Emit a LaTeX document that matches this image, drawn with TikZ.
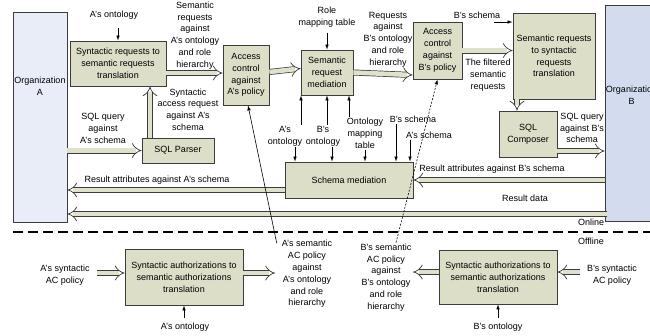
\documentclass[tikz,border=0pt]{standalone}
\usepackage{fontspec}
\setmainfont{Liberation Sans}
\usetikzlibrary{positioning,arrows.meta,calc}
\definecolor{boxFill}{RGB}{220,222,200}
\definecolor{bandFill}{RGB}{222,226,202}
\definecolor{orgAFill}{RGB}{233,237,247}
\definecolor{orgBFill}{RGB}{211,220,238}
\definecolor{edgeGray}{RGB}{60,60,60}
\tikzset{boxStyle/.style={
    draw=edgeGray,
    fill=boxFill,
    line width=0.8pt,
    align=center,
    inner sep=1pt},
  orgStyle/.style={draw=edgeGray, line width=0.8pt},
  textStyle/.style={align=center, inner sep=1pt},
  bandStyle/.style={
    draw=edgeGray,
    line width=0.7pt,
    double=bandFill,
    double distance=4.6pt,
    -{Implies}},
  arrowStyle/.style={
    -{Latex[length=5pt,width=3.5pt]},
    line width=0.6pt},
  dotStyle/.style={arrowStyle, dash pattern=on 2pt off 1.5pt}
}

\begin{document}
\begin{tikzpicture}[x=1pt,y=-1pt,font=\fontsize{9}{11.8}\selectfont]
      \useasboundingbox (0,0) rectangle (650,335);
      \clip (0,0) rectangle (650,335);

      % organizations
      \node[orgStyle, fill=orgAFill, minimum width=54pt, minimum height=210pt] (orgA) at (40,117) {};
      \node[textStyle] (orgAname) at (40,86) {Organization\\A};
      \node[orgStyle, fill=orgBFill, minimum width=60pt, minimum height=216pt] (orgB) at (635,113) {};
      \node[textStyle] (orgBname) at (631.5,95) {Organization\\B};

      % online boxes
      \node[boxStyle, minimum width=96pt, minimum height=45pt] (t1) at (118,63.5)
      {Syntactic requests to\\semantic requests\\translation};
      \node[boxStyle, minimum width=72pt, minimum height=25pt] (parser) at (178,150.5) {SQL Parser};
      \node[boxStyle, minimum width=46pt, minimum height=60pt] (aca) at (246,75)
      {Access\\control\\against\\A's policy};
      \node[boxStyle, minimum width=52pt, minimum height=45pt] (srm) at (327,72.5)
      {Semantic\\request\\mediation};
      \node[boxStyle, minimum width=49pt, minimum height=57pt] (acb) at (437.5,50.5)
      {Access\\control\\against\\B's policy};
      \node[boxStyle, minimum width=82pt, minimum height=86pt] (t2) at (554,56)
      {Semantic requests\\to syntactic\\requests\\translation};
      \node[boxStyle, minimum width=58pt, minimum height=46pt] (comp) at (528,134) {SQL\\Composer};
      \node[boxStyle, minimum width=128pt, minimum height=36pt] (sm) at (349,180) {Schema mediation};

      % offline boxes
      \node[boxStyle, minimum width=118pt, minimum height=56pt] (oa) at (184,277)
      {Syntactic authorizations to\\semantic authorizations\\translation};
      \node[boxStyle, minimum width=118pt, minimum height=54pt] (ob) at (498,277)
      {Syntactic authorizations to\\semantic authorizations\\translation};

      % request flow
      \draw[bandStyle] (orgA.east |- parser.west) -- (parser.west);
      \draw[bandStyle] ([xshift=-28pt]parser.north) -- ([xshift=-28pt]parser.north |- t1.south);
      \draw[bandStyle] ([yshift=-9.5pt]t1.east) -- ([yshift=-9.5pt]t1.east -| aca.west);
      \draw[bandStyle] ([yshift=3pt]aca.east) -- ([yshift=4pt]srm.west);
      \draw[bandStyle] (srm.east) -- ([yshift=-24.5pt]acb.west);
      \draw[bandStyle] (acb.east) -- (acb.east -| t2.west);
      \draw[bandStyle] ([xshift=-37pt]t2.south) -- ([xshift=-37pt]t2.south |- comp.north);
      \draw[bandStyle] ([yshift=-17pt]comp.east) -- ([yshift=-17pt]comp.east -| orgB.west);

      % result flow
      \draw[bandStyle] (sm.east -| orgB.west) -- (sm.east);
      \draw[bandStyle] ([yshift=-10pt]sm.west) -- ([yshift=-10pt]sm.west -| orgA.east);
      \coordinate (rdEnd) at (607,214);
      \draw[bandStyle] (rdEnd) -- (rdEnd -| orgA.east);

      % offline flow
      \coordinate (aSynIn) at (97,273);
      \coordinate (aSemOut) at (275,273);
      \draw[bandStyle] (aSynIn) -- (aSynIn -| oa.west);
      \draw[bandStyle] (aSynIn -| oa.east) -- (aSemOut);
      \coordinate (bSynIn) at (580,272);
      \coordinate (bSemOut) at (413,272);
      \draw[bandStyle] (bSynIn) -- (bSynIn -| ob.east);
      \draw[bandStyle] (bSynIn -| ob.west) -- (bSemOut);

      % labels of the online part
      \node[textStyle] (aOnt1) at (114,15) {A's ontology};
      \draw[arrowStyle] ([yshift=-8pt]aOnt1.south -| t1.north) -- (t1.north);
      \node[textStyle] (semReqA) at (195,35.5)
      {Semantic\\requests\\against\\A's ontology\\and role\\hierarchy};
      \node[textStyle] (synReqA) at (188,109.5) {Syntactic\\access request\\against A's\\schema};
      \node[textStyle] (sqlA) at (103,128.5) {SQL query\\against\\A's schema};
      \node[textStyle] (roleMap) at (327,17) {Role\\mapping table};
      \draw[arrowStyle] ([yshift=-5pt]roleMap.south) -- (srm.north);
      \node[textStyle] (reqB) at (388,39.5)
      {Requests\\against\\B's ontology\\and role\\hierarchy};
      \node[textStyle] (filtered) at (488,75) {The filtered\\semantic\\requests};
      \node[textStyle] (bSch1) at (477,15) {B's schema};
      \draw[arrowStyle] ([xshift=-19pt,yshift=34pt]t2.west) -- ([yshift=34pt]t2.west);
      \node[textStyle] (sqlB) at (582,128) {SQL query\\against B's\\schema};

      % inputs of the mediations
      \node[textStyle] (aOnt2) at (285,136) {A's\\ontology};
      \node[textStyle] (bOnt2) at (323,136) {B's\\ontology};
      \node[textStyle] (ontMap) at (365,133.5) {Ontology\\mapping\\table};
      \node[textStyle] (bSch2) at (413,119) {B's schema};
      \node[textStyle] (aSch2) at (429,135) {A's schema};
      \draw[arrowStyle] ([xshift=16pt]aOnt2.north) -- ([xshift=16pt]aOnt2.north |- srm.south);
      \draw[arrowStyle] ([xshift=10pt]aOnt2.south) -- ([xshift=10pt]aOnt2.south |- sm.north);
      \draw[arrowStyle] ([xshift=4pt]bOnt2.north) -- ([xshift=4pt]bOnt2.north |- srm.south);
      \draw[arrowStyle] ([xshift=9pt]bOnt2.south) -- ([xshift=9pt]bOnt2.south |- sm.north);
      \draw[arrowStyle] ([xshift=-16pt]ontMap.north) -- ([xshift=-16pt]ontMap.north |- srm.south);
      \draw[arrowStyle] (ontMap.south) -- (ontMap.south |- sm.north);
      \draw[arrowStyle] ([xshift=-17pt]bSch2.south) -- ([xshift=-17pt]bSch2.south |- sm.north);
      \draw[arrowStyle] ([xshift=-19pt]aSch2.south) -- ([xshift=-19pt]aSch2.south |- sm.north);

      % results
      \node[textStyle] (resA) at (157,180) {Result attributes against A's schema};
      \node[textStyle] (resB) at (492,169) {Result attributes against B's schema};
      \node[textStyle] (resData) at (525,198) {Result data};

      % online / offline border
      \coordinate (sepL) at (13,232);
      \coordinate (sepR) at (650,232);
      \draw[line width=1.1pt, dash pattern=on 10pt off 5pt] (sepL) -- (sepR);
      \node[textStyle] (online) at (591,222) {Online};
      \node[textStyle] (offline) at (591,241) {Offline};

      % labels of the offline part
      \node[textStyle] (aSyn) at (65,275) {A's syntactic\\AC policy};
      \node[textStyle] (bSyn) at (612,275) {B's syntactic\\AC policy};
      \node[textStyle] (aOnt3) at (185,327) {A's ontology};
      \node[textStyle] (bOnt3) at (498,327) {B's ontology};
      \draw[arrowStyle] ([yshift=4pt]aOnt3.north -| oa.south) -- (oa.south);
      \draw[arrowStyle] ([yshift=4pt]bOnt3.north -| ob.south) -- (ob.south);
      \node[textStyle] (aSem) at (307,274)
      {A's semantic\\AC policy\\against\\A's ontology\\and role\\hierarchy};
      \node[textStyle] (bSem) at (386,277.5)
      {B's semantic\\AC policy\\against\\B's ontology\\and role\\hierarchy};
      \draw[arrowStyle] ([xshift=-4pt,yshift=-4pt]aSem.north west) -- ([xshift=2pt]aca.south);
      \draw[dotStyle] ([xshift=10pt]bSem.north) -- (acb.south);
    \end{tikzpicture}
\end{document}
